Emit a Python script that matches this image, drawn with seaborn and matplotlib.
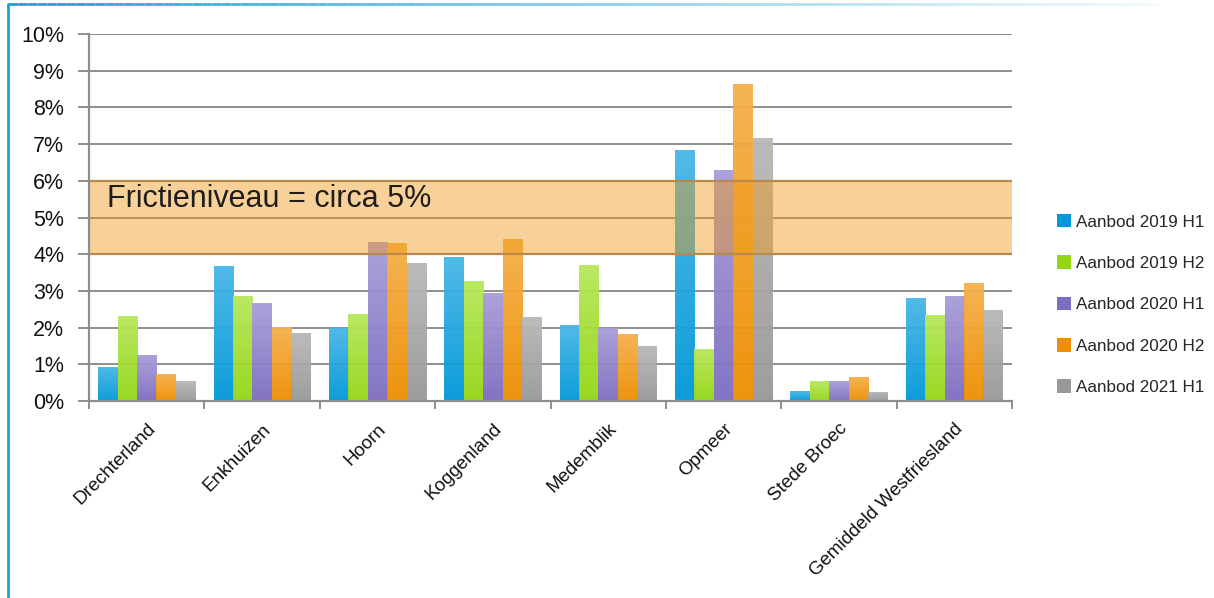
import numpy as np
import pandas as pd
import matplotlib
matplotlib.use("Agg")
import matplotlib.pyplot as plt
import seaborn as sns
from matplotlib.colors import LinearSegmentedColormap, to_rgb
from matplotlib.patches import Rectangle
from matplotlib.lines import Line2D
from matplotlib.collections import LineCollection

# ---------------- data ----------------
regions = ["Drechterland", "Enkhuizen", "Hoorn", "Koggenland", "Medemblik",
           "Opmeer", "Stede Broec", "Gemiddeld Westfriesland"]
series = ["Aanbod 2019 H1", "Aanbod 2019 H2", "Aanbod 2020 H1",
          "Aanbod 2020 H2", "Aanbod 2021 H1"]
v2019_h1 = [0.94, 3.68, 2.00, 3.92, 2.07, 6.83, 0.27, 2.80]
v2019_h2 = [2.32, 2.86, 2.37, 3.27, 3.70, 1.42, 0.54, 2.34]
v2020_h1 = [1.25, 2.67, 4.33, 2.94, 2.00, 6.29, 0.54, 2.86]
v2020_h2 = [0.74, 2.01, 4.30, 4.41, 1.82, 8.63, 0.65, 3.21]
v2021_h1 = [0.54, 1.85, 3.76, 2.29, 1.50, 7.16, 0.25, 2.48]
yticks = [0, 1, 2, 3, 4, 5, 6, 7, 8, 9, 10]
band_low, band_high = 4, 6
band_text = "Frictieniveau = circa 5%"

values = [v2019_h1, v2019_h2, v2020_h1, v2020_h2, v2021_h1]
df = pd.DataFrame({
    "region": regions * len(series),
    "series": [s for s in series for _ in regions],
    "value": [v for vals in values for v in vals],
})

# colours (top, bottom of gradient)
grad = {
    "Aanbod 2019 H1": ("#48B6E6", "#0098D8"),
    "Aanbod 2019 H2": ("#B6E85A", "#94D615"),
    "Aanbod 2020 H1": ("#A89DD8", "#7D6DC0"),
    "Aanbod 2020 H2": ("#F5B04A", "#EE8E00"),
    "Aanbod 2021 H1": ("#B8B8B8", "#989898"),
}
palette = {k: v[1] for k, v in grad.items()}

# ---------------- fonts ----------------
sns.set_theme(style="white")
plt.rcParams["font.family"] = ["Liberation Sans", "DejaVu Sans"]

fig = plt.figure(figsize=(12.14, 5.98), dpi=100)
ax = fig.add_axes([89 / 1214, 1 - 401 / 598, (1012 - 89) / 1214, (401 - 34) / 598])

sns.barplot(data=df, x="region", y="value", hue="series", hue_order=series,
            order=regions, palette=palette, saturation=1, width=0.84,
            ax=ax, legend=False, errorbar=None, zorder=2)

# gradient fill of bars
bars = [p for p in ax.patches if isinstance(p, Rectangle)]
n = len(regions)
for i, p in enumerate(bars):
    s = series[i // n]
    top, bot = grad[s]
    cmap = LinearSegmentedColormap.from_list("g", [to_rgb(bot), to_rgb(top)])
    x, y = p.get_x(), p.get_y()
    w, h = p.get_width(), p.get_height()
    g = np.linspace(0, 1, 64).reshape(-1, 1)
    im = ax.imshow(g, extent=[x, x + w, y, y + h], origin="lower", aspect="auto",
                   cmap=cmap, zorder=2.1, alpha=0.95)
    im.set_clip_path(p)
    p.set_alpha(0)

ax.set_xlim(-0.5, n - 0.5)
ax.set_ylim(0, 10)
ax.set_aspect("auto")

# gridlines
for t in yticks:
    ax.axhline(t, color="#8E8E8E", lw=1.4, zorder=1)

# band
ax.axhspan(band_low, band_high, facecolor="#EE9A1A", alpha=0.45, lw=0, zorder=3)
for yb in (band_low, band_high):
    ax.axhline(yb, color="#B8894A", lw=1.6, zorder=3.5)
ax.text(-0.34, 5.5, band_text, fontsize=22, color="#1E1E1E", va="center",
        ha="left", zorder=4)

# axes styling
for side in ("top", "right"):
    ax.spines[side].set_visible(False)
for side in ("left", "bottom"):
    ax.spines[side].set_color("#8E8E8E")
    ax.spines[side].set_linewidth(1.6)
    ax.spines[side].set_zorder(5)

ax.set_yticks(yticks)
ax.set_yticklabels([f"{t}%" for t in yticks], fontsize=15.5, color="#111111")
ax.tick_params(axis="y", direction="out", length=8, width=1.4, color="#8E8E8E",
               pad=10, left=True)
ax.set_xticks(range(n))
ax.set_xticklabels(regions, rotation=45, ha="right", rotation_mode="anchor",
                   fontsize=13.5, color="#111111")
ax.tick_params(axis="x", length=0, pad=14)
ax.set_xticks(np.arange(-0.5, n, 1), minor=True)
ax.tick_params(axis="x", which="minor", direction="out", length=6, width=1.4,
               color="#8E8E8E", bottom=True)
ax.set_xlabel("")
ax.set_ylabel("")

# legend
handles = [Rectangle((0, 0), 1, 1, facecolor=palette[s], edgecolor="none")
           for s in series]
fig.legend(handles, series, loc="upper left", bbox_to_anchor=(1050 / 1214, 1 - 207 / 598),
           frameon=False, fontsize=12.3, handlelength=0.85, handleheight=0.85,
           handletextpad=0.3, labelspacing=1.5, borderaxespad=0)

# decorative frame: left blue line + fading top line
fig.add_artist(Line2D([8 / 1214, 8 / 1214], [0, 1 - 4 / 598], color="#1BA1DB",
                      lw=2, transform=fig.transFigure))
xs = np.linspace(8 / 1214, 1160 / 1214, 120)
segs = [[(xs[i], 1 - 4 / 598), (xs[i + 1], 1 - 4 / 598)] for i in range(len(xs) - 1)]
alphas = np.linspace(1, 0.05, len(segs))
cols = [(0.106, 0.63, 0.86, a) for a in alphas]
fig.add_artist(LineCollection(segs, colors=cols, lw=2, transform=fig.transFigure))

fig.savefig("out.png", dpi=100)
